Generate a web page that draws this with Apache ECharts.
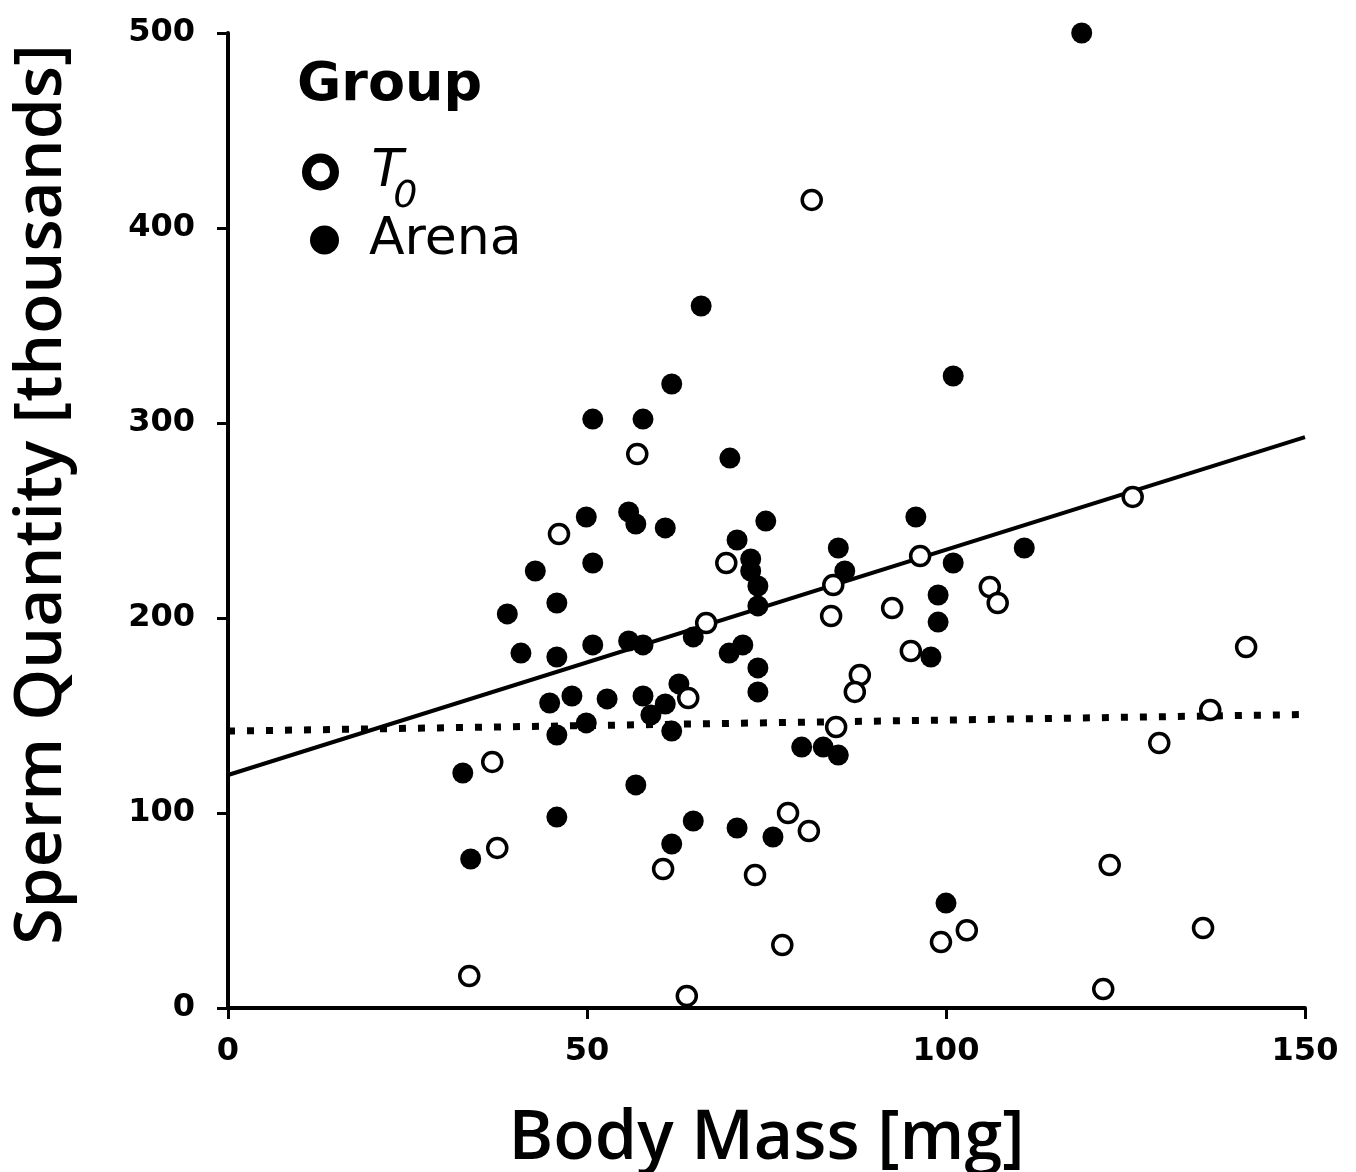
<!DOCTYPE html>
<html>
<head>
<meta charset="utf-8">
<script src="https://cdn.jsdelivr.net/npm/echarts@6/dist/echarts.min.js"></script>
<style>
html,body{margin:0;padding:0;background:#fff;}
#chart{width:1356px;height:1172px;}
</style>
</head>
<body>
<div id="chart"></div>
<script>
// Body mass [mg], sperm quantity [thousands]
var t0Points = [
  [81.3,414.4],[57.0,284.1],[46.1,243.1],[126.0,262.1],[96.4,231.8],[69.4,228.2],
  [84.3,216.9],[106.1,215.9],[107.2,207.7],[66.6,197.4],[84.0,201.0],[92.5,205.1],
  [95.1,183.1],[88.0,170.8],[87.3,162.1],[141.8,185.1],[84.7,144.1],[136.8,152.8],
  [129.7,135.9],[64.1,159.0],[36.8,126.2],[37.5,82.1],[78.0,100.0],[80.9,90.8],
  [60.6,71.3],[73.4,68.2],[122.8,73.3],[99.3,33.8],[102.9,39.9],[135.8,41.0],
  [77.2,32.3],[33.6,16.4],[63.9,6.2],[121.9,9.7]
];
var arenaPoints = [
  [118.9,500],[65.9,360],[61.8,320],[101.0,324.1],[50.8,302],[57.8,302],[69.9,282],
  [49.9,251.8],[55.8,254.4],[56.8,248.2],[60.9,246.2],[74.9,249.7],[95.8,251.8],
  [70.9,240],[72.8,230.3],[72.8,224.1],[73.8,216.4],[73.8,206.2],[85.0,235.9],
  [85.9,224.1],[110.9,235.9],[101.0,228.2],[42.8,224.1],[50.8,228.2],[45.8,207.7],
  [38.9,202.1],[98.9,211.8],[98.9,197.9],[97.9,180],[40.8,182],[45.8,180],
  [50.8,186.2],[55.8,188.2],[57.8,186.2],[64.8,190.3],[71.7,186.2],[69.8,182],
  [73.8,174.4],[73.8,162.1],[62.8,166.2],[44.8,156.4],[47.9,160],[52.8,158.5],
  [57.8,160],[60.9,155.9],[58.9,150.3],[49.9,146.2],[45.8,140],[61.8,142],
  [79.9,133.8],[82.9,133.8],[85.0,129.7],[32.7,120.5],[56.8,114.4],[45.8,97.9],
  [64.8,95.9],[70.9,92.3],[75.9,87.7],[61.8,84.1],[33.8,76.4],[100,53.8]
];
var fitSolid = [[0,119.5],[150,292.8]];
var fitDotted = [[0,142],[150,150.5]];
var xTicks = [0,50,100,150];
var yTicks = [0,100,200,300,400,500];

var chart = echarts.init(document.getElementById('chart'));
var axisFont = 'DejaVu Sans';
chart.setOption({
  animation:false,
  backgroundColor:'#fff',
  title:{
    text:'Group', left:297, top:59, padding:0,
    textStyle:{fontFamily:axisFont, fontWeight:'bold', fontSize:54, color:'#000'}
  },
  legend:[
    {
      data:[{name:'T0', itemStyle:{borderWidth:9, borderColor:'#000', color:'#fff'}}],
      left:302, top:146, padding:0, orient:'vertical',
      itemWidth:28, itemHeight:28, icon:'circle',
      formatter:function(){return '{t|T}{s|0}';},
      textStyle:{
        padding:[0,0,0,32],
        rich:{
          t:{fontFamily:axisFont, fontStyle:'italic', fontSize:52, color:'#000', lineHeight:84},
          s:{fontFamily:axisFont, fontStyle:'italic', fontSize:38, color:'#000', verticalAlign:'bottom', padding:[0,0,-2,-10]}
        }
      }
    },
    {
      data:[{name:'Arena', itemStyle:{color:'#000', borderWidth:0}}],
      left:310, top:214, padding:0, orient:'vertical',
      itemWidth:29, itemHeight:29, icon:'circle',
      textStyle:{fontFamily:axisFont, fontSize:52, color:'#000', padding:[0,0,0,25]}
    }
  ],
  grid:{left:228, right:51, top:33, bottom:164, containLabel:false, outerBoundsMode:'none'},
  xAxis:{
    type:'value', min:0, max:150, interval:50,
    name:'Body Mass [mg]', nameLocation:'middle', nameGap:98,
    nameTextStyle:{fontFamily:'Open Sans', fontWeight:600, fontSize:68, color:'#000'},
    axisLine:{show:true, onZero:false, lineStyle:{color:'#000', width:4}},
    axisTick:{show:true, inside:false, length:11, lineStyle:{color:'#000', width:3}},
    axisLabel:{margin:28, fontFamily:axisFont, fontWeight:'bold', fontSize:32, color:'#000',
      formatter:function(v){return xTicks.indexOf(v)>=0 ? String(v) : '';}},
    splitLine:{show:false}
  },
  yAxis:{
    type:'value', min:0, max:500, interval:100,
    name:'Sperm Quantity [thousands]', nameLocation:'middle', nameGap:153,
    nameTextStyle:{fontFamily:'Open Sans', fontWeight:600, fontSize:66, color:'#000', padding:[0,0,0,52]},
    axisLine:{show:true, onZero:false, lineStyle:{color:'#000', width:4}},
    axisTick:{show:true, inside:false, length:11, lineStyle:{color:'#000', width:3}},
    axisLabel:{margin:33, fontFamily:axisFont, fontWeight:'bold', fontSize:32, color:'#000',
      formatter:function(v){return yTicks.indexOf(v)>=0 ? String(v) : '';}},
    splitLine:{show:false}
  },
  series:[
    {
      type:'line', name:'fitSolid', data:fitSolid, symbol:'none', silent:true, z:1,
      lineStyle:{color:'#000', width:4}
    },
    {
      type:'line', name:'fitDotted', data:fitDotted, symbol:'none', silent:true, z:1,
      lineStyle:{color:'#000', width:7, type:[7,12], cap:'butt'}
    },
    {
      type:'scatter', name:'Arena', data:arenaPoints, symbol:'circle', symbolSize:21, z:2,
      itemStyle:{color:'#000', opacity:1}
    },
    {
      type:'scatter', name:'T0', data:t0Points, symbol:'circle', symbolSize:19, z:3,
      itemStyle:{color:'#fff', borderColor:'#000', borderWidth:3.5, opacity:1}
    }
  ]
});
</script>
</body>
</html>
